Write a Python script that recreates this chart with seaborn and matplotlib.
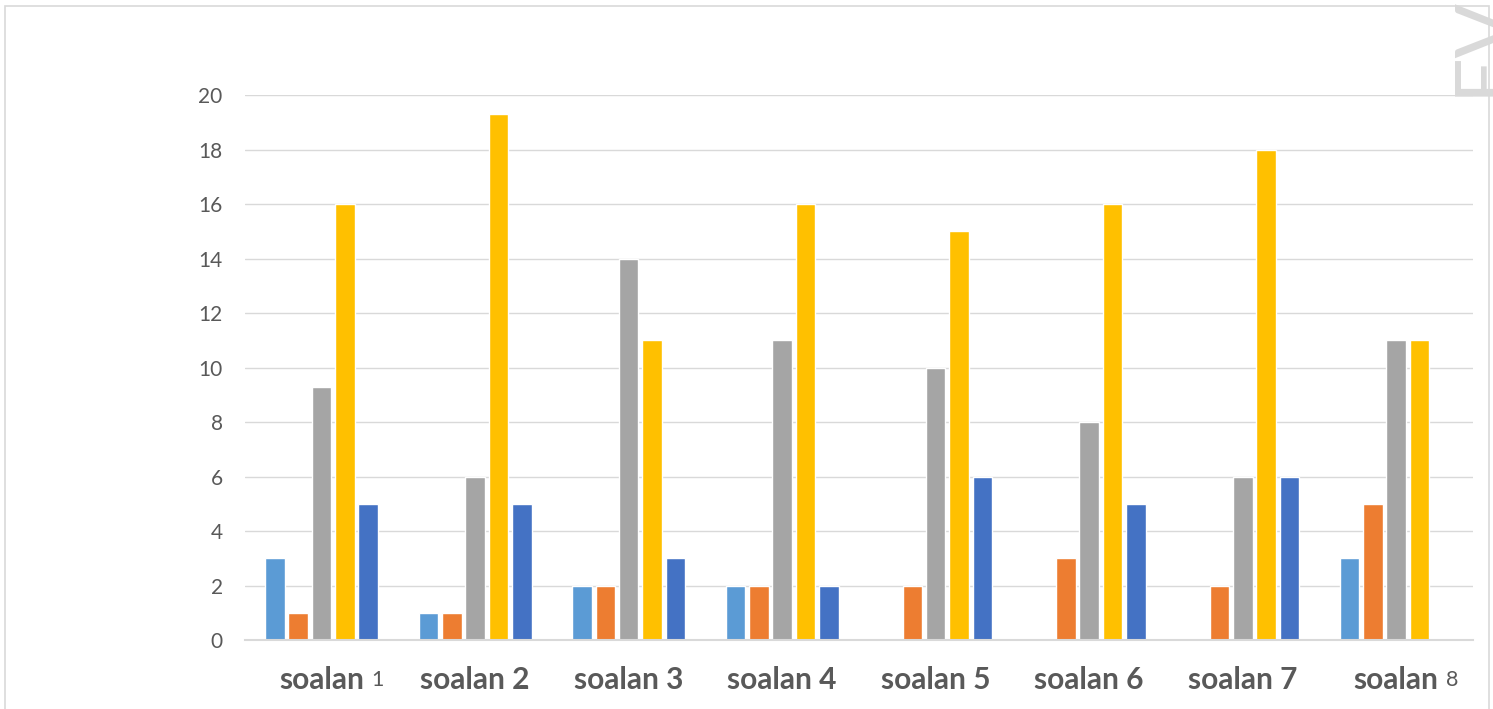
import pandas as pd
import matplotlib
matplotlib.use('Agg')
from matplotlib import pyplot as plt
from matplotlib.patches import Rectangle
import seaborn as sns


categories = ['soalan 1', 'soalan 2', 'soalan 3', 'soalan 4',
              'soalan 5', 'soalan 6', 'soalan 7', 'soalan 8']
series_names = ['s1', 's2', 's3', 's4', 's5']
s1 = [3, 1, 2, 2, 0, 0, 0, 3]
s2 = [1, 1, 2, 2, 2, 3, 2, 5]
s3 = [9.3, 6, 14, 11, 10, 8, 6, 11]
s4 = [16, 19.3, 11, 16, 15, 16, 18, 11]
s5 = [5, 5, 3, 2, 6, 5, 6, 0]
colors = ['#5B9BD5', '#ED7D31', '#A5A5A5', '#FFC000', '#4472C4']

# long table for seaborn
rows = []
for name, vals in zip(series_names, [s1, s2, s3, s4, s5]):
    for cat, v in zip(categories, vals):
        rows.append({'category': cat, 'series': name, 'value': v})
df = pd.DataFrame(rows)

sns.set_style('white')
plt.rcParams['font.family'] = ['Lato', 'DejaVu Sans']

fig = plt.figure(figsize=(14.93, 7.09), dpi=100)
ax = fig.add_axes([0.164, 0.0973, 0.8226, 0.7687])

sns.barplot(data=df, x='category', y='value', hue='series',
            palette=colors, width=0.76, gap=0.16, legend=False,
            saturation=1, ax=ax, errorbar=None)

ax.set_ylim(0, 20)
ax.set_xlim(-0.5, len(categories) - 0.5)
ax.set_yticks(range(0, 21, 2))
ax.yaxis.grid(True, color='#d9d9d9', linewidth=1)
ax.set_axisbelow(True)
for side in ['top', 'right', 'left']:
    ax.spines[side].set_visible(False)
ax.spines['bottom'].set_color('#d9d9d9')
ax.spines['bottom'].set_linewidth(1.5)
ax.set_xlabel('')
ax.set_ylabel('')
ax.tick_params(axis='y', length=0, pad=16, labelsize=15, labelcolor='#595959')
ax.tick_params(axis='x', length=0, pad=19)

# first and last labels have a small plain number after the word
labels = []
for i, cat in enumerate(categories):
    if i in (0, len(categories) - 1):
        labels.append(cat.split(' ')[0])
    else:
        labels.append(cat)
ax.set_xticks(range(len(categories)))
ax.set_xticklabels(labels, fontsize=21.5, fontweight='bold', color='#595959')
for i in (0, len(categories) - 1):
    lbl = ax.get_xticklabels()[i]
    ax.annotate(categories[i].split(' ')[1], xy=(1, 0), xycoords=lbl,
                xytext=(5, 3), textcoords='offset points',
                fontsize=15.5, color='#595959', va='bottom', ha='left')

# outer frame and corner watermark text
fig.add_artist(Rectangle((5 / 1493, -0.05), 1484 / 1493, 1 - 6 / 709 + 0.05,
                         transform=fig.transFigure, fill=False,
                         edgecolor='#d9d9d9', linewidth=1.2))
fig.text(1448 / 1493, 1 - 96 / 709, 'EV', rotation=90, fontsize=58,
         color='#d9d9d9', ha='left', va='bottom')

plt.savefig('out.png', dpi=100)
